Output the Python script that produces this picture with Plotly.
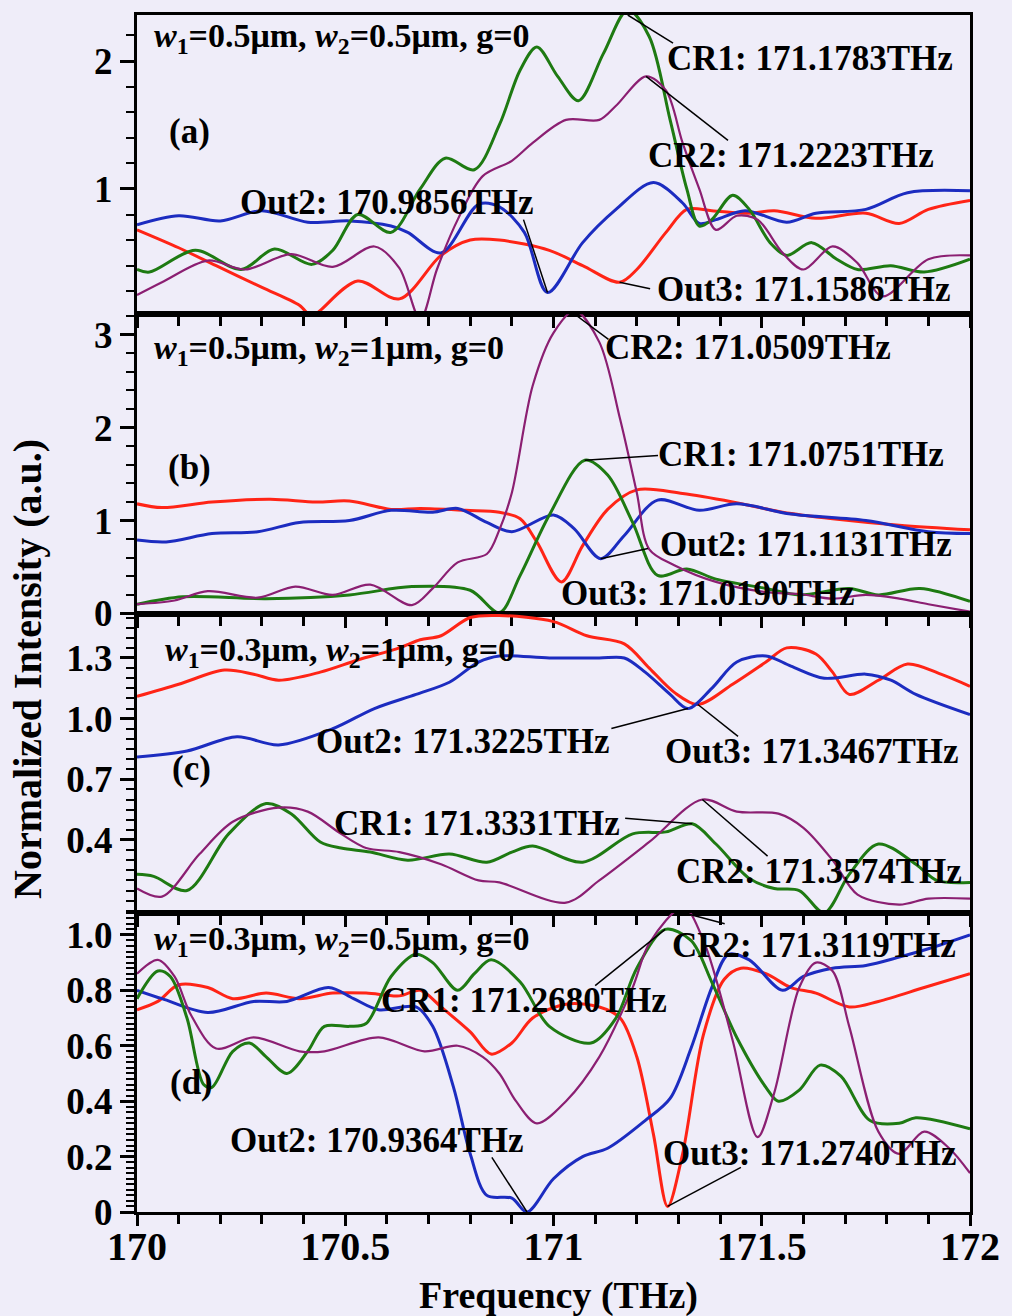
import numpy as np
import plotly.graph_objects as go
from plotly.subplots import make_subplots

# ---------------- panel (a): w1=0.5um, w2=0.5um, g=0 ----------------
a_out2_f = [170.00, 170.10, 170.20, 170.30, 170.41, 170.51, 170.61, 170.65, 170.73, 170.82, 170.87, 170.93, 170.9856,
            171.07, 171.15, 171.24, 171.31, 171.35, 171.39, 171.46, 171.56, 171.63, 171.75, 171.85, 172.00]
a_out2_v = [0.72, 0.79, 0.75, 0.83, 0.74, 0.75, 0.71, 0.66, 0.50, 0.88, 0.86, 0.66, 0.19,
            0.58, 0.84, 1.05, 0.89, 0.73, 0.76, 0.83, 0.74, 0.81, 0.84, 0.97, 0.985]

a_out3_f = [170.00, 170.10, 170.19, 170.30, 170.39, 170.42, 170.44, 170.53, 170.63, 170.73, 170.80, 170.87, 170.99,
            171.07, 171.1586, 171.20, 171.27, 171.32, 171.38, 171.47, 171.53, 171.63, 171.75, 171.83, 171.90, 172.00]
a_out3_v = [0.68, 0.54, 0.40, 0.23, 0.09, 0.00, 0.05, 0.28, 0.14, 0.48, 0.60, 0.60, 0.52,
            0.40, 0.27, 0.37, 0.66, 0.84, 0.83, 0.81, 0.83, 0.77, 0.81, 0.73, 0.84, 0.91]

a_cr1_f = [170.00, 170.03, 170.14, 170.25, 170.33, 170.42, 170.47, 170.53, 170.61, 170.68, 170.74, 170.81, 170.87,
           170.92, 170.96, 171.01, 171.06, 171.12, 171.1783, 171.23, 171.28, 171.32, 171.35, 171.38, 171.43, 171.47,
           171.52, 171.56, 171.62, 171.68, 171.73, 171.81, 171.89, 172.00]
a_cr1_v = [0.37, 0.35, 0.52, 0.37, 0.53, 0.41, 0.52, 0.80, 0.66, 1.00, 1.24, 1.15, 1.50,
           1.93, 2.11, 1.88, 1.69, 2.06, 2.40, 2.19, 1.54, 1.00, 0.71, 0.76, 0.95, 0.84,
           0.58, 0.48, 0.58, 0.45, 0.37, 0.40, 0.35, 0.45]

a_cr2_f = [170.00, 170.06, 170.17, 170.26, 170.37, 170.47, 170.57, 170.63, 170.68, 170.72, 170.77, 170.83, 170.90,
           170.95, 171.03, 171.11, 171.15, 171.2223, 171.27, 171.31, 171.35, 171.39, 171.44, 171.49, 171.55, 171.60,
           171.67, 171.73, 171.79, 171.90, 172.00]
a_cr2_v = [0.17, 0.27, 0.44, 0.37, 0.49, 0.39, 0.55, 0.38, -0.02, 0.37, 0.76, 1.10, 1.22,
           1.36, 1.54, 1.54, 1.65, 1.88, 1.77, 1.36, 1.00, 0.68, 0.79, 0.76, 0.50, 0.37,
           0.55, 0.42, 0.16, 0.45, 0.48]

a_mark_names = ["CR1", "CR2", "Out2", "Out3"]
a_mark_freqs = [171.1783, 171.2223, 170.9856, 171.1586]

# ---------------- panel (b): w1=0.5um, w2=1um, g=0 ----------------
b_out2_f = [170.00, 170.07, 170.18, 170.29, 170.39, 170.51, 170.61, 170.71, 170.77, 170.84, 170.90, 171.00, 171.05,
            171.1131, 171.17, 171.25, 171.35, 171.44, 171.57, 171.75, 171.90, 172.00]
b_out2_v = [0.79, 0.77, 0.86, 0.88, 0.98, 1.00, 1.11, 1.09, 1.13, 0.98, 0.88, 1.06, 0.91,
            0.59, 0.84, 1.22, 1.11, 1.18, 1.07, 1.00, 0.88, 0.86]

b_out3_f = [170.00, 170.06, 170.18, 170.32, 170.43, 170.51, 170.61, 170.68, 170.79, 170.87, 170.92, 170.96, 171.019,
            171.07, 171.13, 171.20, 171.31, 171.43, 171.55, 171.67, 171.83, 172.00]
b_out3_v = [1.18, 1.14, 1.20, 1.23, 1.20, 1.21, 1.12, 1.13, 1.11, 1.09, 1.02, 0.77, 0.34,
            0.73, 1.12, 1.33, 1.29, 1.20, 1.09, 1.02, 0.95, 0.90]

b_cr1_f = [170.00, 170.11, 170.31, 170.51, 170.66, 170.80, 170.87, 170.92, 170.99, 171.0751, 171.13, 171.19, 171.25,
           171.32, 171.39, 171.51, 171.59, 171.71, 171.78, 171.88, 172.00]
b_cr1_v = [0.10, 0.18, 0.16, 0.20, 0.29, 0.25, 0.01, 0.41, 1.06, 1.65, 1.49, 0.98, 0.41,
           0.48, 0.37, 0.27, 0.20, 0.27, 0.20, 0.27, 0.13]

b_cr2_f = [170.00, 170.09, 170.17, 170.29, 170.38, 170.47, 170.56, 170.66, 170.71, 170.77, 170.84, 170.87, 170.90,
           170.95, 171.00, 171.0509, 171.11, 171.16, 171.20, 171.23, 171.29, 171.39, 171.51, 171.59, 171.67, 171.75,
           171.83, 171.90, 172.00]
b_cr2_v = [0.10, 0.14, 0.24, 0.17, 0.29, 0.20, 0.31, 0.09, 0.27, 0.55, 0.64, 0.90, 1.30,
           2.45, 3.02, 3.26, 2.92, 2.09, 1.30, 0.69, 0.52, 0.34, 0.23, 0.21, 0.16, 0.20,
           0.16, 0.10, 0.02]

b_mark_names = ["CR2", "CR1", "Out2", "Out3"]
b_mark_freqs = [171.0509, 171.0751, 171.1131, 171.0190]

# ---------------- panel (c): w1=0.3um, w2=1um, g=0 ----------------
c_out2_f = [170.00, 170.12, 170.24, 170.34, 170.47, 170.57, 170.67, 170.75, 170.82, 170.87, 170.99, 171.11, 171.17,
            171.22, 171.28, 171.3225, 171.38, 171.44, 171.51, 171.57, 171.65, 171.75, 171.81, 171.87, 172.00]
c_out2_v = [0.81, 0.84, 0.91, 0.87, 0.95, 1.05, 1.12, 1.18, 1.28, 1.31, 1.30, 1.30, 1.30,
            1.23, 1.12, 1.05, 1.15, 1.28, 1.31, 1.26, 1.20, 1.22, 1.19, 1.12, 1.02]

c_out3_f = [170.00, 170.10, 170.21, 170.28, 170.34, 170.44, 170.53, 170.63, 170.68, 170.73, 170.80, 170.87, 171.00,
            171.08, 171.17, 171.23, 171.29, 171.3467, 171.43, 171.51, 171.56, 171.63, 171.67, 171.71, 171.78, 171.85,
            171.93, 172.00]
c_out3_v = [1.11, 1.17, 1.24, 1.22, 1.19, 1.23, 1.29, 1.35, 1.39, 1.41, 1.50, 1.51, 1.48,
            1.41, 1.37, 1.25, 1.13, 1.07, 1.17, 1.28, 1.35, 1.32, 1.23, 1.12, 1.19, 1.27,
            1.22, 1.16]

c_cr1_f = [170.00, 170.04, 170.12, 170.22, 170.31, 170.37, 170.44, 170.49, 170.56, 170.65, 170.75, 170.84, 170.90,
           170.95, 171.07, 171.19, 171.27, 171.3331, 171.39, 171.47, 171.53, 171.59, 171.65, 171.71, 171.78, 171.87,
           171.92, 172.00]
c_cr1_v = [0.23, 0.22, 0.15, 0.43, 0.58, 0.53, 0.39, 0.36, 0.34, 0.30, 0.33, 0.29, 0.34,
           0.37, 0.29, 0.43, 0.44, 0.48, 0.38, 0.21, 0.16, 0.15, 0.04, 0.23, 0.38, 0.28,
           0.20, 0.19]

c_cr2_f = [170.00, 170.06, 170.15, 170.23, 170.34, 170.41, 170.49, 170.55, 170.63, 170.73, 170.82, 170.87, 171.03,
           171.11, 171.23, 171.3574, 171.44, 171.54, 171.60, 171.67, 171.73, 171.83, 171.90, 172.00]
c_cr2_v = [0.16, 0.12, 0.33, 0.49, 0.56, 0.54, 0.43, 0.36, 0.34, 0.28, 0.20, 0.19, 0.09,
           0.20, 0.39, 0.60, 0.54, 0.53, 0.46, 0.30, 0.13, 0.08, 0.11, 0.11]

c_mark_names = ["Out2", "Out3", "CR1", "CR2"]
c_mark_freqs = [171.3225, 171.3467, 171.3331, 171.3574]

# ---------------- panel (d): w1=0.3um, w2=0.5um, g=0 ----------------
d_out2_f = [170.00, 170.06, 170.17, 170.28, 170.36, 170.46, 170.52, 170.58, 170.67, 170.71, 170.76, 170.80, 170.84,
            170.90, 170.9364, 171.00, 171.07, 171.13, 171.22, 171.28, 171.33, 171.38, 171.42, 171.47, 171.55, 171.60,
            171.67, 171.75, 171.83, 171.90, 172.00]
d_out2_v = [0.80, 0.77, 0.72, 0.76, 0.76, 0.81, 0.77, 0.73, 0.74, 0.67, 0.45, 0.21, 0.06,
            0.05, 0.00, 0.12, 0.20, 0.23, 0.33, 0.41, 0.59, 0.81, 0.93, 0.91, 0.80, 0.85,
            0.88, 0.89, 0.92, 0.95, 1.00]

d_out3_f = [170.00, 170.05, 170.10, 170.17, 170.23, 170.31, 170.39, 170.47, 170.55, 170.63, 170.68, 170.73, 170.80,
            170.85, 170.90, 170.95, 171.03, 171.11, 171.16, 171.20, 171.24, 171.274, 171.31, 171.36, 171.41, 171.45,
            171.51, 171.57, 171.63, 171.71, 171.78, 171.89, 172.00]
d_out3_v = [0.73, 0.76, 0.82, 0.81, 0.77, 0.79, 0.77, 0.79, 0.79, 0.78, 0.80, 0.74, 0.65,
            0.57, 0.61, 0.70, 0.75, 0.74, 0.70, 0.56, 0.28, 0.02, 0.21, 0.64, 0.84, 0.88,
            0.86, 0.81, 0.79, 0.74, 0.76, 0.81, 0.86]

d_cr1_f = [170.00, 170.05, 170.08, 170.12, 170.16, 170.18, 170.23, 170.27, 170.31, 170.36, 170.41, 170.45, 170.51,
           170.55, 170.61, 170.67, 170.71, 170.77, 170.81, 170.85, 170.92, 170.99, 171.09, 171.15, 171.20, 171.268,
           171.33, 171.38, 171.44, 171.51, 171.54, 171.59, 171.64, 171.69, 171.76, 171.83, 171.87, 172.00]
d_cr1_v = [0.77, 0.87, 0.85, 0.70, 0.46, 0.45, 0.58, 0.61, 0.56, 0.50, 0.58, 0.67, 0.67,
           0.68, 0.85, 0.93, 0.90, 0.80, 0.86, 0.91, 0.83, 0.67, 0.61, 0.70, 0.88, 1.02,
           0.98, 0.83, 0.63, 0.45, 0.40, 0.44, 0.53, 0.49, 0.33, 0.32, 0.34, 0.30]

d_cr2_f = [170.00, 170.05, 170.09, 170.13, 170.19, 170.28, 170.39, 170.45, 170.58, 170.69, 170.77, 170.83, 170.87,
           170.91, 170.96, 171.03, 171.11, 171.19, 171.23, 171.3119, 171.36, 171.43, 171.49, 171.53, 171.59, 171.63,
           171.67, 171.71, 171.78, 171.83, 171.89, 171.95, 172.00]
d_cr2_v = [0.86, 0.91, 0.85, 0.71, 0.59, 0.63, 0.58, 0.58, 0.63, 0.58, 0.60, 0.56, 0.50,
           0.40, 0.32, 0.40, 0.56, 0.81, 0.97, 1.10, 0.98, 0.62, 0.27, 0.43, 0.81, 0.90,
           0.87, 0.67, 0.29, 0.21, 0.29, 0.23, 0.14]

d_mark_names = ["CR1", "CR2", "Out2", "Out3"]
d_mark_freqs = [171.2680, 171.3119, 170.9364, 171.2740]

# ---------------- axis ticks ----------------
x_tick_vals = [170, 170.5, 171, 171.5, 172]
x_tick_text = ["170", "170.5", "171", "171.5", "172"]

# ---------------- styling ----------------
FONT = "Liberation Serif"
BG = "#efedf9"
COLORS = {"Out2": "#1c2cc0", "Out3": "#ff2416", "CR1": "#1e7a12", "CR2": "#8b1f72"}
WIDTHS = {"Out2": 3, "Out3": 3, "CR1": 3, "CR2": 2.2}

panels = [
    dict(series={"Out3": (a_out3_f, a_out3_v), "Out2": (a_out2_f, a_out2_v),
                 "CR1": (a_cr1_f, a_cr1_v), "CR2": (a_cr2_f, a_cr2_v)},
         names=a_mark_names, freqs=a_mark_freqs,
         yrange=[0.02, 2.36], yticks=[1, 2], yticktext=["1", "2"], yminor=0.2,
         params="<i>w</i><sub>1</sub>=0.5μm, <i>w</i><sub>2</sub>=0.5μm, g=0", params_pos=(170.036, 2.18),
         tag="(a)", tag_pos=(170.127, 1.45),
         # label: (text left x, text y, leader tail x, leader tail y or None)
         labels={"CR1": (171.268, 2.02, 171.287, 2.14), "CR2": (171.222, 1.26, 171.419, 1.38),
                 "Out2": (170.242, 0.89, 170.928, 0.76), "Out3": (171.244, 0.21, 171.232, 0.22)}),
    dict(series={"Out3": (b_out3_f, b_out3_v), "Out2": (b_out2_f, b_out2_v),
                 "CR1": (b_cr1_f, b_cr1_v), "CR2": (b_cr2_f, b_cr2_v)},
         names=b_mark_names, freqs=b_mark_freqs,
         yrange=[0.0, 3.22], yticks=[0, 1, 2, 3], yticktext=["0", "1", "2", "3"], yminor=0.2,
         params="<i>w</i><sub>1</sub>=0.5μm, <i>w</i><sub>2</sub>=1μm, g=0", params_pos=(170.036, 2.84),
         tag="(b)", tag_pos=(170.127, 1.57),
         labels={"CR2": (171.120, 2.86, 171.132, 2.95), "CR1": (171.246, 1.71, 171.251, 1.70),
                 "Out2": (171.251, 0.74, 171.227, 0.70), "Out3": (171.012, 0.21, None, None)}),
    dict(series={"Out3": (c_out3_f, c_out3_v), "Out2": (c_out2_f, c_out2_v),
                 "CR1": (c_cr1_f, c_cr1_v), "CR2": (c_cr2_f, c_cr2_v)},
         names=c_mark_names, freqs=c_mark_freqs,
         yrange=[0.04, 1.52], yticks=[0.4, 0.7, 1.0, 1.3], yticktext=["0.4", "0.7", "1.0", "1.3"], yminor=0.05,
         params="<i>w</i><sub>1</sub>=0.3μm, <i>w</i><sub>2</sub>=1μm, g=0", params_pos=(170.062, 1.33),
         tag="(c)", tag_pos=(170.132, 0.755),
         labels={"Out2": (170.426, 0.887, 171.139, 0.951), "Out3": (171.263, 0.838, 171.443, 0.912),
                 "CR1": (170.469, 0.483, 171.172, 0.507), "CR2": (171.289, 0.246, 171.514, 0.320)}),
    dict(series={"Out3": (d_out3_f, d_out3_v), "Out2": (d_out2_f, d_out2_v),
                 "CR1": (d_cr1_f, d_cr1_v), "CR2": (d_cr2_f, d_cr2_v)},
         names=d_mark_names, freqs=d_mark_freqs,
         yrange=[0.0, 1.08], yticks=[0, 0.2, 0.4, 0.6, 0.8, 1.0],
         yticktext=["0", "0.2", "0.4", "0.6", "0.8", "1.0"], yminor=0.02,
         params="<i>w</i><sub>1</sub>=0.3μm, <i>w</i><sub>2</sub>=0.5μm, g=0", params_pos=(170.036, 0.979),
         tag="(d)", tag_pos=(170.132, 0.467),
         labels={"CR1": (170.581, 0.763, 171.100, 0.817), "CR2": (171.280, 0.961, 171.411, 1.04),
                 "Out2": (170.218, 0.258, 170.852, 0.197), "Out3": (171.258, 0.211, 171.450, 0.161)}),
]

fig = make_subplots(rows=4, cols=1, shared_xaxes=True, vertical_spacing=0)

annotations = []
shapes = []
for row, p in enumerate(panels, start=1):
    suffix = "" if row == 1 else str(row)
    xref, yref = "x" + suffix, "y" + suffix
    lo, hi = p["yrange"]

    for key in ["Out3", "Out2", "CR1", "CR2"]:
        f, v = p["series"][key]
        fig.add_trace(go.Scatter(x=f, y=v, mode="lines", showlegend=False,
                                 line=dict(color=COLORS[key], width=WIDTHS[key],
                                           shape="spline", smoothing=0.9)),
                      row=row, col=1)

    # peak / dip labels with leader lines
    for name, freq in zip(p["names"], p["freqs"]):
        f, v = p["series"][name]
        head_v = float(np.clip(np.interp(freq, f, v), lo, hi))
        tx, ty, lx, ly = p["labels"][name]
        annotations.append(dict(x=tx, y=ty, xref=xref, yref=yref, xanchor="left", yanchor="middle",
                                text=f"<b>{name}: {freq:.4f}THz</b>", showarrow=False,
                                font=dict(family=FONT, size=35, color="black")))
        if lx is not None:
            shapes.append(dict(type="line", xref=xref, yref=yref, x0=freq, y0=head_v, x1=lx, y1=ly,
                               line=dict(color="black", width=1.5), layer="above"))

    annotations.append(dict(x=p["params_pos"][0], y=p["params_pos"][1], xref=xref, yref=yref,
                            xanchor="left", yanchor="middle", showarrow=False,
                            text="<b>" + p["params"] + "</b>",
                            font=dict(family=FONT, size=34, color="black")))
    annotations.append(dict(x=p["tag_pos"][0], y=p["tag_pos"][1], xref=xref, yref=yref,
                            xanchor="center", yanchor="middle", showarrow=False,
                            text="<b>" + p["tag"] + "</b>",
                            font=dict(family=FONT, size=35, color="black")))

    minor_vals = [round(t, 4) for t in np.arange(0, hi + 1e-9, p["yminor"]) if t >= lo - 1e-9]
    fig.update_yaxes(range=[lo, hi], tickmode="array", tickvals=p["yticks"], ticktext=p["yticktext"],
                     ticks="outside", ticklen=14, tickwidth=2.5, tickcolor="black",
                     minor=dict(tickmode="array", tickvals=minor_vals, ticks="outside",
                                ticklen=8, tickwidth=2, tickcolor="black"),
                     showline=True, linewidth=3, linecolor="black", mirror=True,
                     showgrid=False, zeroline=False,
                     tickfont=dict(family=FONT, size=37, color="black", weight="bold"),
                     row=row, col=1)

    fig.update_xaxes(range=[170, 172], tickmode="array", tickvals=x_tick_vals, ticktext=x_tick_text,
                     ticks="outside", ticklen=11, tickwidth=2.5, tickcolor="black",
                     minor=dict(tickmode="linear", tick0=170, dtick=0.1, ticks="outside",
                                ticklen=9, tickwidth=2.5, tickcolor="black"),
                     showline=True, linewidth=3, linecolor="black", mirror=True,
                     showgrid=False, zeroline=False, showticklabels=(row == 4),
                     ticklabelstandoff=-14,
                     tickfont=dict(family=FONT, size=40, color="black", weight="bold"),
                     row=row, col=1)

# shared axis titles
annotations.append(dict(x=0.506, y=-0.07, xref="paper", yref="paper", xanchor="center", yanchor="middle",
                        text="<b>Frequency (THz)</b>", showarrow=False,
                        font=dict(family=FONT, size=38, color="black")))
annotations.append(dict(x=-0.1316, y=0.454, xref="paper", yref="paper", xanchor="center", yanchor="middle",
                        text="<b>Normalized Intensity (a.u.)</b>", showarrow=False, textangle=-90,
                        font=dict(family=FONT, size=40, color="black")))

fig.update_layout(width=1012, height=1316, margin=dict(l=137, r=39, t=12, b=104),
                  paper_bgcolor=BG, plot_bgcolor=BG,
                  annotations=annotations, shapes=shapes,
                  font=dict(family=FONT, color="black"))

fig.write_html("out.html")
